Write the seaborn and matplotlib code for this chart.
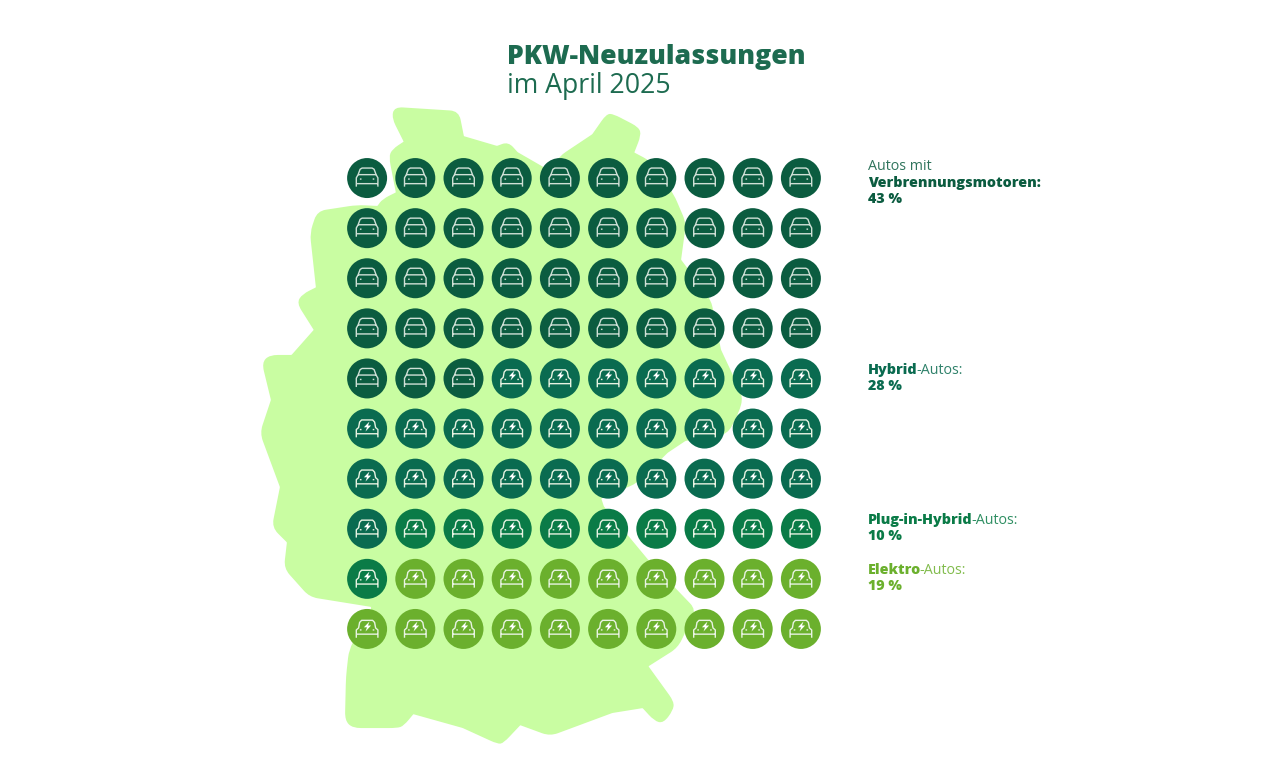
import numpy as np
import pandas as pd
import matplotlib
matplotlib.use("Agg")
import matplotlib.pyplot as plt
from matplotlib.path import Path
from matplotlib.patches import PathPatch
import seaborn as sns

sns.set_theme(style="white")
plt.rcParams['font.family'] = ['Open Sans', 'DejaVu Sans']

# data
categories = ['Verbrennung', 'Hybrid', 'Plug-in-Hybrid', 'Elektro']
shares = [43, 28, 10, 19]
colors = ['#0b5c40', '#0a6b50', '#0a7b47', '#6bb02d']
electric = [False, True, True, True]
n_cols = 10

legend_first = ['Autos mit', '', '', '']
legend_bold = ['Verbrennungsmotoren:', 'Hybrid', 'Plug-in-Hybrid', 'Elektro']
legend_rest = ['', '-Autos:', '-Autos:', '-Autos:']
legend_pct = ['43 %', '28 %', '10 %', '19 %']
legend_y = [167, 370, 520, 570]

# outline of the map, in picture pixels
map_x = [395, 458, 463, 497, 508, 517, 550, 560, 593, 607, 613, 638, 640, 633, 650,
         673, 685, 680, 710, 720, 742, 738, 727, 685, 667, 637, 600, 603, 647, 695,
         677, 647, 673, 672, 663, 655, 643, 612, 550, 520, 503, 498, 463, 413, 403,
         397, 353, 346, 347, 350, 372, 372, 310, 285, 288, 273, 281, 261, 272, 263,
         270, 292, 315, 298, 303, 317, 311, 318, 357, 378, 383, 397, 390, 393, 405, 393]
map_y = [108, 112, 137, 147, 143, 153, 172, 157, 135, 115, 115, 128, 135, 153, 162,
         195, 223, 260, 300, 350, 397, 412, 433, 440, 452, 482, 498, 507, 560, 610,
         647, 666, 702, 710, 722, 720, 707, 712, 735, 724, 742, 743, 727, 713, 725,
         727, 727, 720, 677, 650, 610, 606, 596, 568, 542, 527, 487, 433, 400, 363,
         356, 356, 330, 303, 295, 288, 233, 212, 206, 207, 200, 193, 157, 150, 142, 118]

TITLE = '#1d6b50'
MAP = '#c9fda2'


def make_path(lines):
    # polylines in pixels, y pointing down
    verts, codes = [], []
    for line in lines:
        for i, (x, y) in enumerate(line):
            verts.append((x, -y))
            codes.append(Path.MOVETO if i == 0 else Path.LINETO)
    return Path(verts, codes)


def marker_size(path):
    # scatter size that keeps the path at its pixel size
    return (2 * np.abs(path.vertices).max() * 0.72) ** 2


def rounded_outline(xs, ys, r_out=8, r_in=1):
    # round the outer corners of the polygon, inner ones stay nearly sharp
    pts = np.column_stack([xs, ys]).astype(float)
    n = len(pts)
    verts, codes = [], []
    for i in range(n):
        p, a, b = pts[i], pts[i - 1], pts[(i + 1) % n]
        e1, e2 = p - a, b - p
        l1, l2 = np.hypot(*e1), np.hypot(*e2)
        convex = e1[0] * e2[1] - e1[1] * e2[0] > 0
        r = r_out if convex else r_in
        r1, r2 = min(r, l1 * 0.48), min(r, l2 * 0.48)
        verts += [p - e1 / l1 * r1, p, p + e2 / l2 * r2]
        codes += [Path.MOVETO if i == 0 else Path.LINETO, Path.CURVE3, Path.CURVE3]
    verts.append(verts[0])
    codes.append(Path.CLOSEPOLY)
    return Path(verts, codes)


lamps = [[(-7.2, 1), (-5.6, 1)], [(5.6, 1), (7.2, 1)]]
car_icon = make_path([
    [(-10.8, 8.6), (-10.8, -0.2), (-9, -3.4), (-7, -8.8), (-5, -10), (5, -10),
     (7, -8.8), (9, -3.4), (10.8, -0.2), (10.8, 8.6)],
    [(-10.8, 5.6), (10.8, 5.6)],
    [(-9, -3.4), (9, -3.4)],
] + lamps)
ev_icon = make_path([
    [(-10.8, 8.8), (-10.8, 1), (-8.5, -1), (-7.5, -6.5), (-5.5, -8.6), (5.5, -8.6),
     (7.5, -6.5), (8.5, -1), (10.8, 1), (10.8, 8.8)],
    [(-10.8, 5.2), (10.8, 5.2)],
] + lamps)
bolt_icon = make_path([
    [(2, -8), (-3.6, -2.2), (-0.5, -2.2), (-2, 2), (3.6, -4), (0.5, -4), (2, -8)],
])

# one row per car, filled from the top left
kind = np.repeat(categories, shares)
n = len(kind)
df = pd.DataFrame({'kind': kind, 'col': np.arange(n) % n_cols, 'row': np.arange(n) // n_cols})
df['electric'] = np.repeat(electric, shares)

fig = plt.figure(figsize=(12.8, 7.68), dpi=100)
ax = fig.add_axes([0, 0, 1, 1])
ax.set_xlim(0, 1280)
ax.set_ylim(768, 0)
ax.axis('off')

ax.add_patch(PathPatch(rounded_outline(map_x, map_y), facecolor=MAP, edgecolor=MAP,
                       linewidth=1.5, zorder=1))

# waffle axes, cell pitch 48.2 x 50.1 px
ax2 = fig.add_axes([343 / 1280, 1 - (153 + 501) / 768, 482 / 1280, 501 / 768])
ax2.patch.set_alpha(0)
sns.scatterplot(data=df, x='col', y='row', hue='kind', hue_order=categories, palette=colors,
                s=829, linewidth=0, legend=False, ax=ax2, zorder=2)
sns.scatterplot(data=df[~df.electric], x='col', y='row', marker=car_icon, s=marker_size(car_icon),
                facecolor='none', edgecolor='#cfe0d6', linewidth=1, ax=ax2, zorder=3)
sns.scatterplot(data=df[df.electric], x='col', y='row', marker=ev_icon, s=marker_size(ev_icon),
                facecolor='none', edgecolor='#e8f3e2', linewidth=1, ax=ax2, zorder=3)
sns.scatterplot(data=df[df.electric], x='col', y='row', marker=bolt_icon, s=marker_size(bolt_icon),
                color='white', linewidth=0, ax=ax2, zorder=3)
ax2.set_xlim(-0.5, n_cols - 0.5)
ax2.set_ylim(9.5, -0.5)
ax2.axis('off')

# title
ax.text(507, 57, 'PKW-Neuzulassungen', fontsize=19.2, fontweight='heavy', color=TITLE, va='center')
ax.text(507, 86, 'im April 2025', fontsize=19.2, color=TITLE, va='center')

# legend on the right
renderer = fig.canvas.get_renderer()
label_kw = dict(fontsize=10.3, va='center')
for i in range(len(categories)):
    y = legend_y[i]
    c = colors[i]
    if legend_first[i]:
        ax.text(868, y, legend_first[i], color=c, alpha=0.85, **label_kw)
        y += 16
    t = ax.text(868, y, legend_bold[i], color=c, fontweight='heavy', **label_kw)
    if legend_rest[i]:
        x1 = t.get_window_extent(renderer).x1
        ax.text(x1 - 1.5, y, legend_rest[i], color=c, alpha=0.85, **label_kw)
    ax.text(868, y + 16, legend_pct[i], color=c, fontweight='heavy', **label_kw)

fig.savefig('out.png', dpi=100, facecolor='white')
